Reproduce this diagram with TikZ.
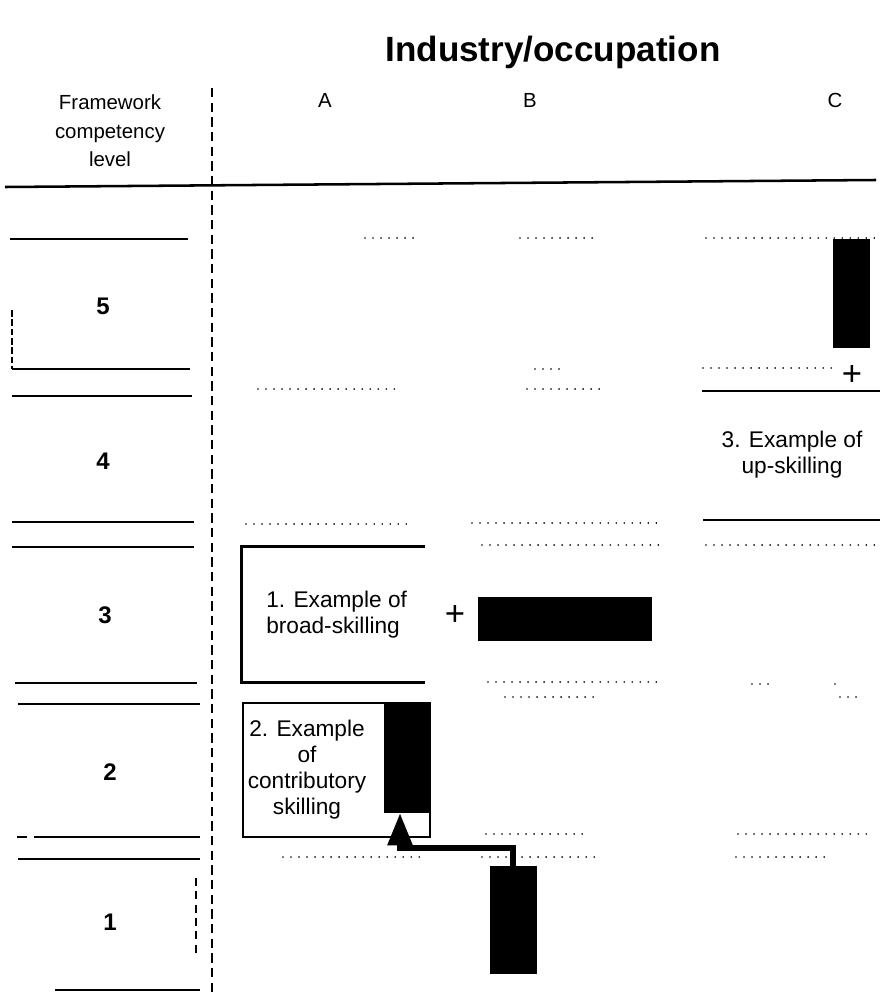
\documentclass[tikz,border=0pt]{standalone}
\usepackage{fontspec}
\setmainfont{Liberation Sans}
\usetikzlibrary{arrows.meta}

\begin{document}
\begin{tikzpicture}[x=0.75pt,y=-0.75pt,
  rule/.style={line width=1.9pt},
  divider/.style={line width=2.2pt, dash pattern=on 7pt off 4pt},
  dotrow/.style={line width=1.3pt, line cap=round, dash pattern=on 0.01pt off 6pt},
  head/.style={font=\fontsize{15.3}{21.5}\selectfont, align=center, inner sep=0pt},
  title/.style={font=\bfseries\fontsize{26.3}{30}\selectfont, inner sep=0pt},
  lvl/.style={font=\bfseries\fontsize{18}{20}\selectfont, inner sep=0pt},
  note/.style={font=\fontsize{17}{19.5}\selectfont, align=center, inner sep=0pt},
  plus/.style={font=\fontsize{26}{26}\selectfont, inner sep=0pt},
  blk/.style={fill=black, draw=none, inner sep=0pt, rectangle},
  frame/.style={inner sep=0pt, rectangle},
  arr/.style={line width=4.3pt, line join=miter, -{Triangle[length=24pt,width=18pt]}}
]
\useasboundingbox (0,0) rectangle (880,992);

% headings
\node[title] (ttl) at (553,52) {Industry/occupation};
\node[head] (fcl) at (110,131) {Framework\\competency\\level};
\node[head] (colA) at (325,100) {A};
\node[head] (colB) at (530,100) {B};
\node[head] (colC) at (835,100) {C};

% frame of the table
\draw[rule] (5,187) -- (876,180);
\draw[divider] (212,88) -- (212,992);

% level bands in the left column
\draw[rule] (10,239) -- (188,239);
\draw[rule] (12,369) -- (190,369);
\draw[line width=1.2pt, dash pattern=on 5pt off 2pt] (12,310) -- (12,369);
\draw[rule] (12,396) -- (192,396);
\draw[rule] (12,522) -- (194,522);
\draw[rule] (12,547) -- (194,547);
\draw[rule] (15,683) -- (197,683);
\draw[rule] (18,704) -- (200,704);
\draw[rule] (17,837) -- (27,837);
\draw[rule] (34,837) -- (200,837);
\draw[rule] (18,859) -- (200,859);
\draw[rule] (55,990) -- (200,990);
\draw[line width=1.2pt, dash pattern=on 6pt off 4pt] (196,878) -- (196,957);

\node[lvl] (l5) at (103,306) {5};
\node[lvl] (l4) at (103,461) {4};
\node[lvl] (l3) at (105,615) {3};
\node[lvl] (l2) at (110,772) {2};
\node[lvl] (l1) at (110,922) {1};

% faint row markers across the columns
\draw[dotrow] (365,238) -- (415,238);
\draw[dotrow] (520,238) -- (600,238);
\draw[dotrow] (706,238) -- (876,238);
\draw[dotrow] (535,369) -- (565,369);
\draw[dotrow] (703,368) -- (838,368);
\draw[dotrow] (258,389) -- (395,389);
\draw[dotrow] (527,389) -- (600,389);
\draw[dotrow] (246,524) -- (410,524);
\draw[dotrow] (472,523) -- (660,523);
\draw[dotrow] (482,545) -- (660,545);
\draw[dotrow] (706,545) -- (878,545);
\draw[dotrow] (488,682) -- (660,682);
\draw[dotrow] (752,684) -- (770,684);
\draw[dotrow] (835,684) -- (842,684);
\draw[dotrow] (505,697) -- (595,697);
\draw[dotrow] (840,697) -- (860,697);
\draw[dotrow] (486,834) -- (586,834);
\draw[dotrow] (738,834) -- (870,834);
\draw[dotrow] (283,857) -- (425,857);
\draw[dotrow] (482,857) -- (600,857);
\draw[dotrow] (736,857) -- (830,857);

% 1. broad-skilling
\node[frame, minimum width=137.25pt, minimum height=101.25pt] (box1) at (333.5,614.5) {};
\draw[rule] (box1.north east) -- (box1.north west) -- (box1.south west) -- (box1.south east);
\node[note, align=left, anchor=west] (t1) at (266,615) {1. Example of\\broad-skilling};
\node[plus] (p1) at (455,615) {+};
\node[blk, minimum width=130.5pt, minimum height=33pt] (b3) at (565,619) {};

% 2. contributory skilling
\node[frame, draw, rule, minimum width=140.25pt, minimum height=100.5pt] (box2) at (336.5,770) {};
\node[blk, minimum width=34.5pt, minimum height=82.5pt] (c2) at (407,758) {};
\node[note] (t2) at (307,770) {2. Example\\of\\contributory\\skilling};
\node[blk, minimum width=35.25pt, minimum height=81pt] (b1) at (513,920) {};
\coordinate (bend) at (400,848);
\draw[arr] (b1.north) |- (bend) -- (bend |- c2.south);

% 3. up-skilling
\node[blk, minimum width=27.75pt, minimum height=81.75pt] (c5) at (851.5,293.5) {};
\node[plus] (p3) at (852,375) {+};
\draw[rule] (702,391) -- (880,391);
\node[note] (t3) at (792,455) {3. Example of\\up-skilling};
\draw[rule] (703,520) -- (880,520);
\end{tikzpicture}
\end{document}
